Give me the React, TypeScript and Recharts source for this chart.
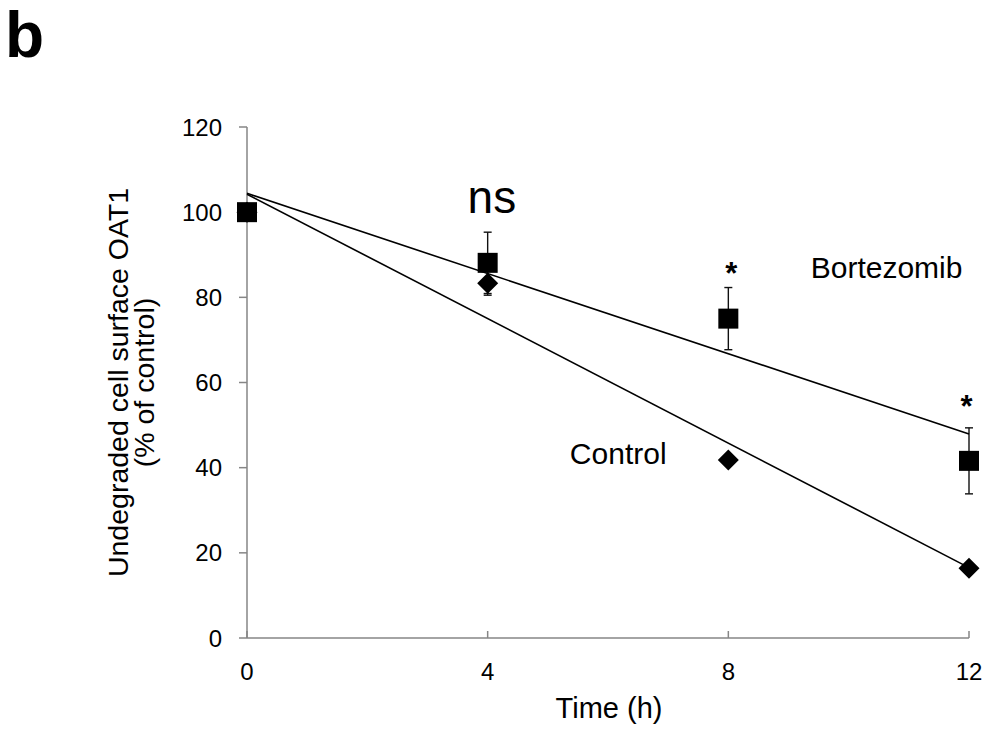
import React from 'react';
import { ComposedChart, Scatter, XAxis, YAxis, ErrorBar, ReferenceDot } from 'recharts';

const timesH = [0, 4, 8, 12];
const bortezomib = [100, 88.1, 75.0, 41.6];
const bortezomibErr = [0, 7.2, 7.3, 7.75];
const control = [100, 83.3, 41.8, 16.4];
const controlErr = [0, 2.8, 0, 0];
const xTicks = [0, 4, 8, 12];
const yTicks = [0, 20, 40, 60, 80, 100, 120];

const bortezomibData = timesH.map((t, i) => ({ x: t, y: bortezomib[i], err: bortezomibErr[i] }));
const controlData = timesH.map((t, i) => ({ x: t, y: control[i], err: controlErr[i] }));

const FONT = '"Liberation Sans", Arial, sans-serif';
const AXIS = '#868686';

const Square = (props: any) => {
  const { cx, cy } = props;
  return <rect x={cx - 10} y={cy - 10} width={20} height={20} fill="#000" />;
};

const Diamond = (props: any) => {
  const { cx, cy } = props;
  const h = 10.5;
  return <polygon points={`${cx},${cy - h} ${cx + h},${cy} ${cx},${cy + h} ${cx - h},${cy}`} fill="#000" />;
};

const XTick = (props: any) => {
  const { x, y, payload } = props;
  return (
    <g>
      <line x1={x} y1={y} x2={x} y2={y - 7} stroke={AXIS} strokeWidth={1.5} />
      <text x={x} y={y + 42} textAnchor="middle" fontSize={24} fill="#000" fontFamily={FONT}>
        {payload.value}
      </text>
    </g>
  );
};

// text with its baseline at the dot position
const textAt = (text: string, size: number, bold = false) => (props: any) => {
  const { viewBox } = props;
  return (
    <text
      x={viewBox.x + viewBox.width / 2}
      y={viewBox.y + viewBox.height / 2}
      textAnchor="middle"
      fontSize={size}
      fontWeight={bold ? 'bold' : 'normal'}
      fill="#000"
      fontFamily={FONT}
    >
      {text}
    </text>
  );
};

const YTitle = () => (
  <text
    x={128}
    y={382.5}
    transform="rotate(-90, 128, 382.5)"
    textAnchor="middle"
    fontSize={28.5}
    fill="#000"
    fontFamily={FONT}
  >
    <tspan x={128} dy={0}>Undegraded cell surface OAT1</tspan>
    <tspan x={128} dy={26}>(% of control)</tspan>
  </text>
);

const XTitle = () => (
  <text x={609} y={718} textAnchor="middle" fontSize={29} fill="#000" fontFamily={FONT}>
    Time (h)
  </text>
);

export default function App() {
  return (
    <div style={{ position: 'absolute', left: 0, top: 0, width: 998, height: 729, background: '#fff', fontFamily: FONT }}>
      <svg width={140} height={110} style={{ position: 'absolute', left: 0, top: 0 }}>
        <text x={5} y={57} fontSize={64} fontWeight="bold" fill="#000" fontFamily={FONT}>b</text>
      </svg>
      <ComposedChart
        width={998}
        height={729}
        margin={{ top: 127, right: 29, left: 0, bottom: 0 }}
        style={{ position: 'absolute', left: 0, top: 0 }}
      >
        <XAxis
          type="number"
          dataKey="x"
          domain={[0, 12]}
          ticks={xTicks}
          height={91}
          axisLine={{ stroke: AXIS, strokeWidth: 1.5 }}
          tickLine={false}
          tickSize={0}
          tickMargin={0}
          tick={<XTick />}
          label={<XTitle />}
        />
        <YAxis
          type="number"
          dataKey="y"
          domain={[0, 120]}
          ticks={yTicks}
          width={247}
          tickSize={8}
          tickMargin={17}
          axisLine={{ stroke: AXIS, strokeWidth: 1.5 }}
          tickLine={{ stroke: AXIS, strokeWidth: 1.5 }}
          tick={{ fontSize: 24, fill: '#000', fontFamily: FONT }}
          label={<YTitle />}
        />
        <Scatter
          data={controlData}
          dataKey="y"
          shape={<Diamond />}
          line={{ stroke: '#000', strokeWidth: 1.6 }}
          lineType="fitting"
          isAnimationActive={false}
        >
          <ErrorBar dataKey="err" direction="y" width={4} stroke="#111" strokeWidth={1.4} />
        </Scatter>
        <Scatter
          data={bortezomibData}
          dataKey="y"
          shape={<Square />}
          line={{ stroke: '#000', strokeWidth: 1.6 }}
          lineType="fitting"
          isAnimationActive={false}
        >
          <ErrorBar dataKey="err" direction="y" width={4} stroke="#111" strokeWidth={1.4} />
        </Scatter>
        <ReferenceDot x={4.07} y={99.8} r={0} stroke="none" label={textAt('ns', 46)} />
        <ReferenceDot x={8.05} y={83.1} r={0} stroke="none" label={textAt('*', 31, true)} />
        <ReferenceDot x={11.96} y={52.0} r={0} stroke="none" label={textAt('*', 31, true)} />
        <ReferenceDot x={10.63} y={84.5} r={0} stroke="none" label={textAt('Bortezomib', 30)} />
        <ReferenceDot x={6.17} y={40.9} r={0} stroke="none" label={textAt('Control', 30)} />
      </ComposedChart>
    </div>
  );
}
